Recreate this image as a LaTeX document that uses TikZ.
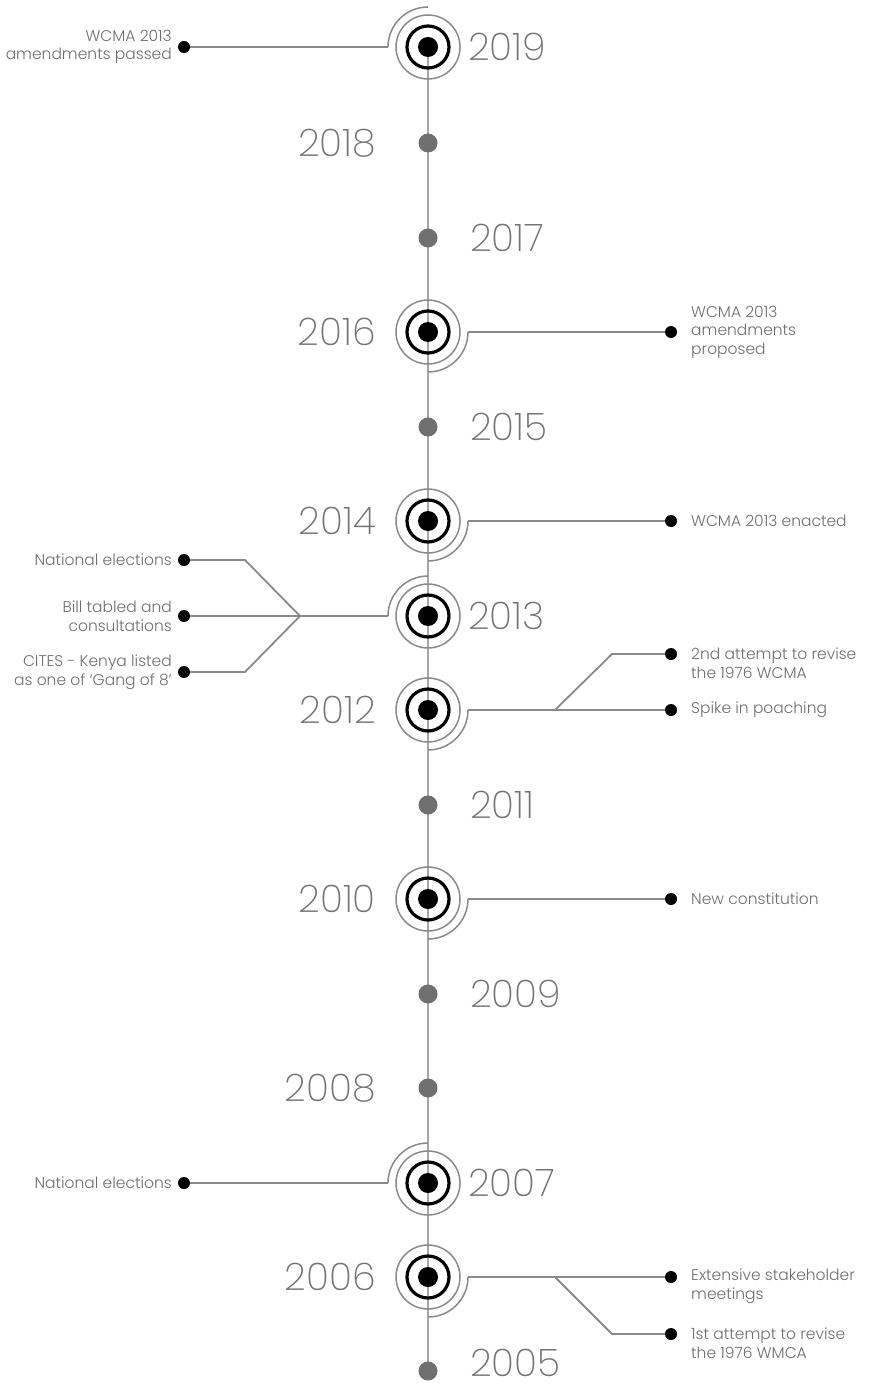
\documentclass[tikz,border=0pt]{standalone}
\usepackage{fontspec}
\setmainfont{Poppins}[UprightFont={* Light}]
\newfontfamily\yearfont{Poppins}[UprightFont={* ExtraLight}]
\usetikzlibrary{calc}
\definecolor{spinecol}{HTML}{A6A6A6}
\definecolor{linkcol}{HTML}{8A8A8A}
\definecolor{minorcol}{HTML}{707070}
\definecolor{yearcol}{HTML}{737373}
\definecolor{textcol}{HTML}{6E6E6E}
\tikzset{
  x=1pt, y=-1pt,
  spine/.style={draw=spinecol, line width=2pt},
  link/.style={draw=linkcol, line width=1.8pt},
  grayring/.style={draw=linkcol, line width=1.5pt},
  blackring/.style={draw=black, line width=3.2pt},
  hub/.style={circle, minimum size=80pt, inner sep=0pt, outer sep=0pt},
  majordot/.style={circle, fill=black, minimum size=20pt, inner sep=0pt},
  minordot/.style={circle, fill=minorcol, minimum size=19pt, inner sep=0pt},
  evdot/.style={circle, fill=black, minimum size=12pt, inner sep=0pt},
  year/.style={text=yearcol, font=\yearfont\fontsize{38}{44}\selectfont, inner sep=0pt},
  evtext/.style={text=textcol, font=\fontsize{15.5}{18.5}\selectfont, inner sep=0pt},
}
\newcommand{\majoryear}[2]{% name, y position
  \node[hub] (h#1) at (428,#2) {};
  \draw[blackring] (h#1.center) circle[radius=21];
  \draw[grayring] (h#1.center) circle[radius=32];
  \node[majordot] (c#1) at (h#1.center) {};
}
\begin{document}
\begin{tikzpicture}
\useasboundingbox (0,0) rectangle (868,1388);

% ends of the spine
\coordinate (p2019) at (428,47);
\coordinate (p2005) at (428,1371);

% spine
\draw[spine] (p2019) -- (p2005);

% minor years
\node[minordot] (m2018) at (428,143) {};
\node[minordot] (m2017) at (428,238) {};
\node[minordot] (m2015) at (428,427) {};
\node[minordot] (m2011) at (428,805) {};
\node[minordot] (m2009) at (428,994) {};
\node[minordot] (m2008) at (428,1088) {};
\node[minordot] (m2005) at (p2005) {};

% major years
\majoryear{2019}{47}
\majoryear{2016}{332}
\majoryear{2014}{521}
\majoryear{2013}{616}
\majoryear{2012}{710}
\majoryear{2010}{899}
\majoryear{2007}{1183}
\majoryear{2006}{1277}

% outer quarter arcs (towards the event side)
\draw[grayring] (h2019.west) arc[start angle=180, end angle=270, radius=40];
\draw[grayring] (h2013.west) arc[start angle=180, end angle=270, radius=40];
\draw[grayring] (h2007.west) arc[start angle=180, end angle=270, radius=40];
\draw[grayring] (h2016.east) arc[start angle=0, end angle=90, radius=40];
\draw[grayring] (h2014.east) arc[start angle=0, end angle=90, radius=40];
\draw[grayring] (h2012.east) arc[start angle=0, end angle=90, radius=40];
\draw[grayring] (h2010.east) arc[start angle=0, end angle=90, radius=40];
\draw[grayring] (h2006.east) arc[start angle=0, end angle=90, radius=40];

% year labels
\node[year, anchor=west] (y2019) at (468,47) {2019};
\node[year, anchor=east] (y2018) at (376,143) {2018};
\node[year, anchor=west] (y2017) at (470,238) {2017};
\node[year, anchor=east] (y2016) at (376,332) {2016};
\node[year, anchor=west] (y2015) at (470,427) {2015};
\node[year, anchor=east] (y2014) at (376,521) {2014};
\node[year, anchor=west] (y2013) at (468,616) {2013};
\node[year, anchor=east] (y2012) at (376,710) {2012};
\node[year, anchor=west] (y2011) at (470,805) {2011};
\node[year, anchor=east] (y2010) at (376,899) {2010};
\node[year, anchor=west] (y2009) at (470,994) {2009};
\node[year, anchor=east] (y2008) at (376,1088) {2008};
\node[year, anchor=west] (y2007) at (468,1183) {2007};
\node[year, anchor=east] (y2006) at (376,1277) {2006};
\node[year, anchor=west] (y2005) at (470,1363) {2005};

% event dots
\node[evdot] (e2019) at (184,47) {};
\node[evdot] (e2016) at (671,332) {};
\node[evdot] (e2014) at (671,521) {};
\node[evdot] (e2013a) at (184,560) {};
\node[evdot] (e2013b) at (184,616) {};
\node[evdot] (e2013c) at (184,672) {};
\node[evdot] (e2012a) at (671,654) {};
\node[evdot] (e2012b) at (671,710) {};
\node[evdot] (e2010) at (671,899) {};
\node[evdot] (e2007) at (184,1183) {};
\node[evdot] (e2006a) at (671,1277) {};
\node[evdot] (e2006b) at (671,1334) {};

% branch points and bends
\coordinate (b2013) at (300,616);
\coordinate (k2013a) at (245,560);
\coordinate (k2013c) at (245,672);
\coordinate (b2012) at (555,710);
\coordinate (k2012a) at (612,654);
\coordinate (b2006) at (555,1277);
\coordinate (k2006b) at (612,1334);

% connectors
\draw[link] (h2019.west) -- (e2019);
\draw[link] (h2016.east) -- (e2016);
\draw[link] (h2014.east) -- (e2014);
\draw[link] (h2013.west) -- (b2013) -- (e2013b);
\draw[link] (b2013) -- (k2013a) -- (e2013a);
\draw[link] (b2013) -- (k2013c) -- (e2013c);
\draw[link] (h2012.east) -- (e2012b);
\draw[link] (b2012) -- (k2012a) -- (e2012a);
\draw[link] (h2010.east) -- (e2010);
\draw[link] (h2007.west) -- (e2007);
\draw[link] (h2006.east) -- (e2006a);
\draw[link] (b2006) -- (k2006b) -- (e2006b);

% event texts
\node[evtext, anchor=east, align=right] (t2019) at (172,47) {WCMA 2013\\amendments passed};
\node[evtext, anchor=west, align=left] (t2016) at (691,332) {WCMA 2013\\amendments\\proposed};
\node[evtext, anchor=west, align=left] (t2014) at (691,521) {WCMA 2013 enacted};
\node[evtext, anchor=east, align=right] (t2013a) at (172,560) {National elections};
\node[evtext, anchor=east, align=right] (t2013b) at (172,616) {Bill tabled and\\consultations};
\node[evtext, anchor=east, align=right] (t2013c) at (172,672) {CITES - Kenya listed\\as one of ‘Gang of 8’};
\node[evtext, anchor=west, align=left] (t2012a) at (691,663) {2nd attempt to revise\\the 1976 WCMA};
\node[evtext, anchor=west, align=left] (t2012b) at (691,710) {Spike in poaching};
\node[evtext, anchor=west, align=left] (t2010) at (691,899) {New constitution};
\node[evtext, anchor=east, align=right] (t2007) at (172,1183) {National elections};
\node[evtext, anchor=west, align=left] (t2006a) at (691,1286) {Extensive stakeholder\\meetings};
\node[evtext, anchor=west, align=left] (t2006b) at (691,1343) {1st attempt to revise\\the 1976 WMCA};
\end{tikzpicture}
\end{document}
